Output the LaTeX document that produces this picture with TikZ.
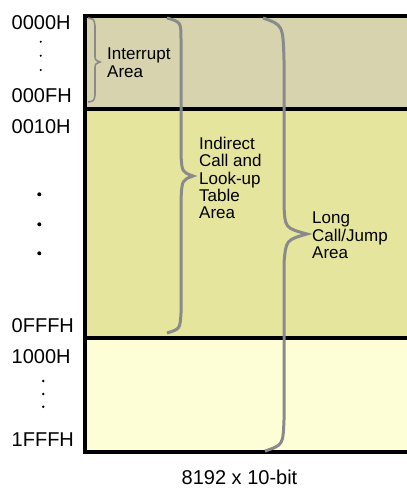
\documentclass[tikz,border=0pt]{standalone}
\usepackage{fontspec}
\setmainfont{Liberation Sans}
\usepackage{tikz}
\definecolor{interrupttan}{RGB}{214, 211, 174}
\definecolor{tableolive}{RGB}{229, 229, 157}
\definecolor{jumpcream}{RGB}{254, 254, 214}
\definecolor{bracegray}{RGB}{138, 138, 138}

\begin{document}
\begin{tikzpicture}[x=1pt, y=-1pt]
            % Frame to fix the page size:
            \clip                                                             (  0.00,  0.00) rectangle (407.00, 488.00);
            % Memory blocks
            \fill[interrupttan]                                               ( 85.00, 16.00) rectangle (412.00, 109.00);
            \fill[tableolive]                                                 ( 85.00,109.00) rectangle (412.00, 338.00);
            \fill[jumpcream]                                                  ( 85.00,338.00) rectangle (412.00, 452.00);
            \draw[black, line width=4pt]                                      ( 85.00, 16.00) rectangle (412.00, 452.00);
            \draw[black, line width=4pt]                                      ( 85.00,109.00) -- (412.00,109.00);
            \draw[black, line width=4pt]                                      ( 85.00,338.00) -- (412.00,338.00);
            % Interrupt brace
            \draw[bracegray, line width=1.6pt] ( 88.00, 18.00) .. controls ( 94.00, 19.00) .. ( 95.00, 26.00) -- ( 95.00, 55.00)
                 .. controls ( 95.00, 60.00) .. (100.00, 62.00) .. controls ( 95.00, 64.00) .. ( 95.00, 69.00) -- ( 95.00, 95.00)
                 .. controls ( 94.00,101.00) .. ( 88.00,102.00);
            % Indirect call brace
            \draw[bracegray, line width=3pt]   (167.00, 18.00) .. controls (181.00, 22.00) .. (181.00, 40.00) -- (181.00,155.00)
                 .. controls (182.00,172.00) .. (193.00,176.00) .. controls (182.00,180.00) .. (181.00,200.00) -- (181.00,313.00)
                 .. controls (180.00,329.00) .. (167.00,333.00);
            % Long call brace
            \draw[bracegray, line width=3pt]   (263.00, 18.00) .. controls (283.00, 25.00) .. (284.00, 60.00) -- (284.00,205.00)
                 .. controls (285.00,228.00) .. (307.00,234.00) .. controls (286.00,240.00) .. (284.00,263.00) -- (284.00,420.00)
                 .. controls (283.00,445.00) .. (265.00,451.00);
            % Area labels
            \node[anchor=north west, inner sep=0pt, align=left, font=\fontsize{17}{17.3}\selectfont] (interrupt) at (107.00, 48.00) {Interrupt\\Area};
            \node[anchor=north west, inner sep=0pt, align=left, font=\fontsize{17}{17.3}\selectfont] (indirect)  at (199.00,137.00) {Indirect\\Call and\\Look-up\\Table\\Area};
            \node[anchor=north west, inner sep=0pt, align=left, font=\fontsize{17}{17.3}\selectfont] (longjump)  at (312.00,212.00) {Long\\Call/Jump\\Area};
            % Addresses
            \node[anchor=base west, inner sep=0pt, font=\fontsize{20}{24}\selectfont] (a0000) at ( 11.50, 29.00) {0000H};
            \node[anchor=base west, inner sep=0pt, font=\fontsize{20}{24}\selectfont] (a000f) at ( 11.50,102.00) {000FH};
            \node[anchor=base west, inner sep=0pt, font=\fontsize{20}{24}\selectfont] (a0010) at ( 11.50,133.00) {0010H};
            \node[anchor=base west, inner sep=0pt, font=\fontsize{20}{24}\selectfont] (a0fff) at ( 11.50,332.00) {0FFFH};
            \node[anchor=base west, inner sep=0pt, font=\fontsize{20}{24}\selectfont] (a1000) at ( 11.50,363.00) {1000H};
            \node[anchor=base west, inner sep=0pt, font=\fontsize{20}{24}\selectfont] (a1fff) at ( 11.50,446.00) {1FFFH};
            % Ellipsis dots
            \fill[black]                                                      ( 40.70, 41.70) circle (1.1pt);
            \fill[black]                                                      ( 40.70, 55.70) circle (1.1pt);
            \fill[black]                                                      ( 40.70, 70.00) circle (1.1pt);
            \fill[black]                                                      ( 39.30,194.30) circle (2.0pt);
            \fill[black]                                                      ( 39.30,224.30) circle (2.0pt);
            \fill[black]                                                      ( 39.30,253.30) circle (2.0pt);
            \fill[black]                                                      ( 43.30,381.00) circle (1.4pt);
            \fill[black]                                                      ( 43.30,394.00) circle (1.4pt);
            \fill[black]                                                      ( 43.30,406.70) circle (1.4pt);
            % Size caption
            \node[anchor=base, inner sep=0pt, font=\fontsize{20}{24}\selectfont] (memsize) at (239.50,484.50) {8192 x 10-bit};
        \end{tikzpicture}
\end{document}
